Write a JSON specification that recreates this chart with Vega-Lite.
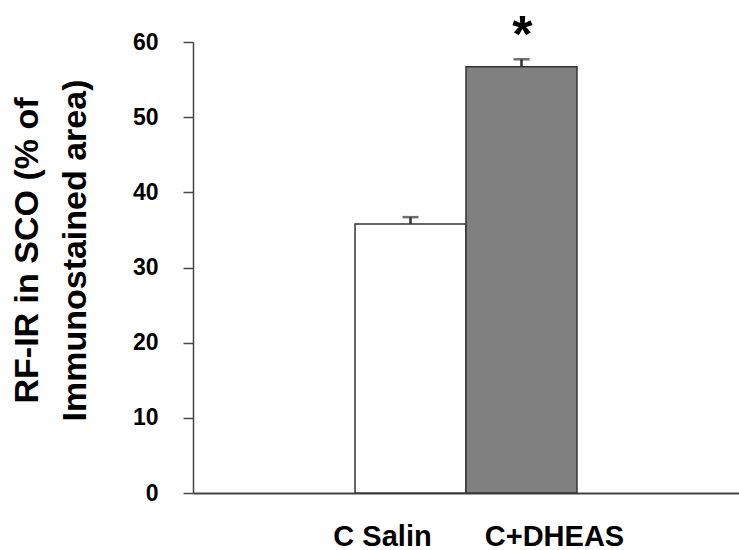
{
  "$schema": "https://vega.github.io/schema/vega-lite/v6.json",
  "width": 546,
  "height": 451,
  "autosize": "none",
  "padding": {"left": 193, "top": 42, "right": 0, "bottom": 57},
  "background": "white",
  "config": {"view": {"stroke": null}, "font": "Liberation Sans"},
  "data": {
    "values": [
      {"group": "C Salin", "mean": 35.8, "upper": 36.7, "sig": ""},
      {"group": "C+DHEAS", "mean": 56.7, "upper": 57.7, "sig": "*"}
    ]
  },
  "encoding": {
    "x": {
      "field": "group",
      "type": "nominal",
      "scale": {"domain": ["left", "C Salin", "C+DHEAS", "right"], "paddingInner": 0, "paddingOuter": 0.46},
      "axis": {
        "title": null,
        "values": ["C Salin", "C+DHEAS"],
        "labelAngle": 0,
        "ticks": false,
        "labelFont": "Liberation Sans",
        "labelFontWeight": "bold",
        "labelFontSize": 29,
        "labelColor": "#000",
        "labelPadding": 29,
        "labelOffset": {"condition": {"test": "datum.value == 'C Salin'", "value": -28}, "value": 33},
        "domainColor": "#444",
        "domainWidth": 2
      }
    }
  },
  "layer": [
    {
      "mark": {"type": "bar", "stroke": "#333", "strokeWidth": 1.5},
      "encoding": {
        "y": {
          "field": "mean",
          "type": "quantitative",
          "scale": {"domain": [0, 60]},
          "axis": {
            "title": ["RF-IR in SCO (% of", "Immunostained area)"],
            "titleFont": "Liberation Sans",
            "titleFontWeight": "bold",
            "titleFontSize": 34,
            "titleLineHeight": 48,
            "titleColor": "#000",
            "titlePadding": 40,
            "titleY": 208,
            "values": [0, 10, 20, 30, 40, 50, 60],
            "grid": false,
            "tickSize": 10,
            "tickColor": "#444",
            "tickWidth": 1.5,
            "labelFont": "Liberation Sans",
            "labelFontWeight": "bold",
            "labelFontSize": 23,
            "labelColor": "#000",
            "labelPadding": 25,
            "domainColor": "#444",
            "domainWidth": 1.5
          }
        },
        "fill": {
          "field": "group",
          "type": "nominal",
          "scale": {"domain": ["C Salin", "C+DHEAS"], "range": ["#ffffff", "#808080"]},
          "legend": null
        }
      }
    },
    {
      "mark": {"type": "rule", "color": "#333", "strokeWidth": 2.5},
      "encoding": {
        "y": {"field": "mean", "type": "quantitative"},
        "y2": {"field": "upper"}
      }
    },
    {
      "mark": {"type": "tick", "color": "#333", "thickness": 2.5, "size": 16},
      "encoding": {
        "y": {"field": "upper", "type": "quantitative"}
      }
    },
    {
      "mark": {"type": "text", "font": "Liberation Sans", "fontWeight": "bold", "fontSize": 52, "baseline": "alphabetic", "color": "#000", "dy": -7, "dx": 1},
      "encoding": {
        "y": {"field": "upper", "type": "quantitative"},
        "text": {"field": "sig"}
      }
    }
  ]
}
